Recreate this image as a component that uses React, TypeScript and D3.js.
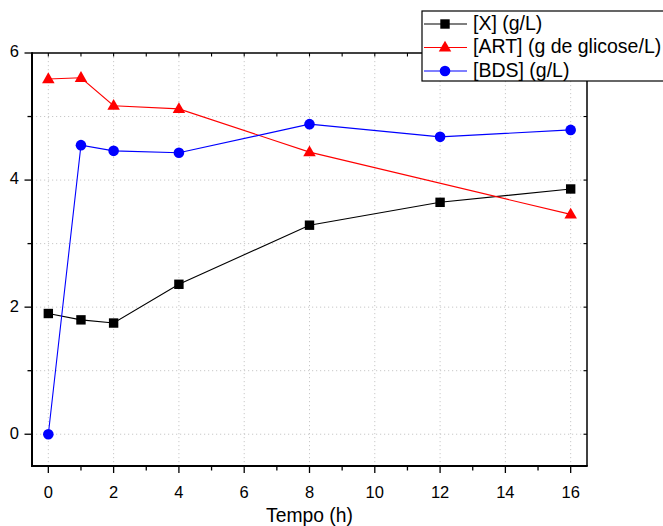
import React from "react";
import * as d3 from "d3";

const timeX = [0, 1, 2, 4, 8, 12, 16];
const valuesX = [1.9, 1.8, 1.75, 2.36, 3.29, 3.65, 3.86];
const timeART = [0, 1, 2, 4, 8, 16];
const valuesART = [5.59, 5.61, 5.17, 5.12, 4.44, 3.46];
const timeBDS = [0, 1, 2, 4, 8, 12, 16];
const valuesBDS = [0, 4.55, 4.46, 4.43, 4.88, 4.68, 4.79];
const xTicks = [0, 2, 4, 6, 8, 10, 12, 14, 16];
const yTicks = [0, 2, 4, 6];
const legendLabels = ["[X] (g/L)", "[ART] (g de glicose/L)", "[BDS] (g/L)"];
const xLabel = "Tempo (h)";

const W = 663, H = 526;
const L = 32, R = 587, T = 53, B = 466;
const FONT = "'Liberation Sans', Arial, sans-serif";

export default function App() {
  const x = d3.scaleLinear().domain([-0.5, 16.5]).range([L, R]);
  const y = d3.scaleLinear().domain([-0.5, 6]).range([B, T]);
  const line = d3.line<[number, number]>().x(d => x(d[0])).y(d => y(d[1]));

  const series = [
    { t: timeX, v: valuesX, color: "#000000", marker: "square" },
    { t: timeART, v: valuesART, color: "#ff0000", marker: "triangle" },
    { t: timeBDS, v: valuesBDS, color: "#0000ff", marker: "circle" },
  ];

  const marker = (type: string, cx: number, cy: number, color: string, key: any) => {
    if (type === "square") return <rect key={key} x={cx - 4.7} y={cy - 4.7} width={9.4} height={9.4} fill={color} />;
    if (type === "circle") return <circle key={key} cx={cx} cy={cy} r={5.3} fill={color} />;
    const s = 12.5, h = 10.8;
    return <path key={key} d={`M${cx},${cy - h * 0.62}L${cx + s / 2},${cy + h * 0.38}L${cx - s / 2},${cy + h * 0.38}Z`} fill={color} />;
  };

  const allX = d3.range(0, 17);
  const allY = d3.range(0, 7);
  const hGrid = d3.range(0, 6);

  return (
    <svg width={W} height={H} style={{ position: "absolute", left: 0, top: 0, background: "#fff" }} fontFamily={FONT}>
      <rect x={0} y={0} width={W} height={H} fill="#fff" />
      {xTicks.map(t => (
        <line key={"gx" + t} x1={x(t)} x2={x(t)} y1={T} y2={B} stroke="#c8c8c8" strokeWidth={1} strokeDasharray="1.2,2.8" />
      ))}
      {hGrid.map(t => (
        <line key={"gy" + t} x1={L} x2={R} y1={y(t)} y2={y(t)} stroke="#c8c8c8" strokeWidth={1} strokeDasharray="1.2,2.8" />
      ))}
      {series.map((s, i) => (
        <path key={"l" + i} d={line(s.t.map((t, j) => [t, s.v[j]]) as [number, number][]) || ""} fill="none" stroke={s.color} strokeWidth={1.1} />
      ))}
      {series.map((s, i) => s.t.map((t, j) => marker(s.marker, x(t), y(s.v[j]), s.color, "m" + i + "-" + j)))}
      <line x1={L} x2={R} y1={T} y2={T} stroke="#000" strokeWidth={1.5} />
      <line x1={R} x2={R} y1={T} y2={B} stroke="#000" strokeWidth={1.5} />
      <line x1={L} x2={L} y1={T - 0.75} y2={B + 1} stroke="#000" strokeWidth={2} />
      <line x1={L - 1} x2={R + 0.75} y1={B} y2={B} stroke="#000" strokeWidth={2} />
      {allX.map(t => (
        <line key={"bx" + t} x1={x(t)} x2={x(t)} y1={B} y2={B + (t % 2 === 0 ? 7 : 4.5)} stroke="#000" strokeWidth={1.3} />
      ))}
      {allX.map(t => (
        <line key={"tx" + t} x1={x(t)} x2={x(t)} y1={T} y2={T + 3.5} stroke="#000" strokeWidth={1.1} />
      ))}
      {allY.map(t => (
        <line key={"ly" + t} x1={L} x2={L - (t % 2 === 0 ? 7.5 : 4.5)} y1={y(t)} y2={y(t)} stroke="#000" strokeWidth={1.3} />
      ))}
      {allY.map(t => (
        <line key={"ry" + t} x1={R} x2={R - 3.5} y1={y(t)} y2={y(t)} stroke="#000" strokeWidth={1.1} />
      ))}
      {xTicks.map(t => (
        <text key={"xl" + t} x={x(t)} y={494} textAnchor="middle" dominantBaseline="middle" fontSize={16.5} fill="#000">{t}</text>
      ))}
      {yTicks.map(t => (
        <text key={"yl" + t} x={19} y={y(t)} textAnchor="end" dominantBaseline="middle" fontSize={16.5} fill="#000">{t}</text>
      ))}
      <text x={(L + R) / 2} y={517} textAnchor="middle" dominantBaseline="middle" fontSize={19.3} fill="#000">{xLabel}</text>
      <rect x={422} y={11} width={260} height={70} fill="#fff" stroke="#000" strokeWidth={1.2} />
      {series.map((s, i) => {
        const cy = 24 + i * 23.5;
        return (
          <g key={"lg" + i}>
            <line x1={424} x2={467} y1={cy} y2={cy} stroke={s.color} strokeWidth={1.1} />
            {marker(s.marker, 445, cy, s.color, "lm" + i)}
            <text x={473} y={cy + 0.5} dominantBaseline="middle" fontSize={19.5} fill="#000">{legendLabels[i]}</text>
          </g>
        );
      })}
    </svg>
  );
}
